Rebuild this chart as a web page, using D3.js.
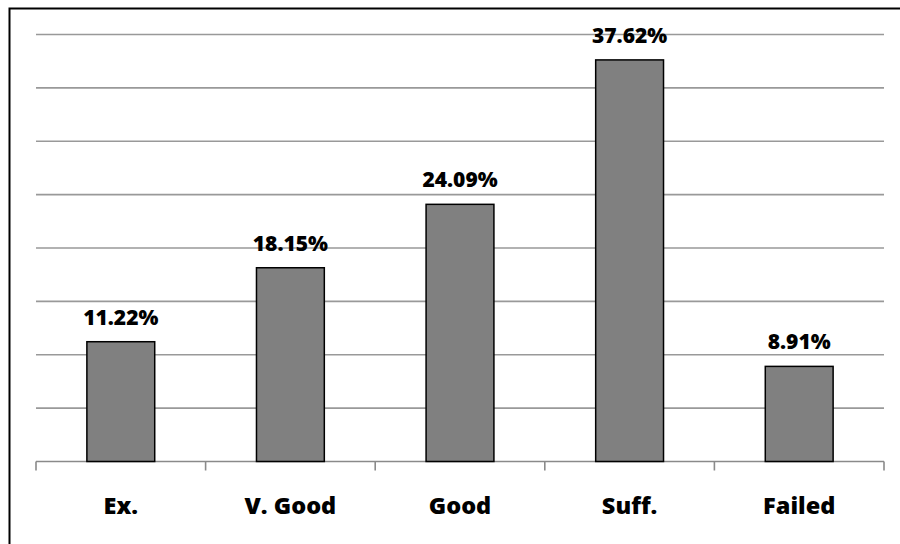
<!DOCTYPE html>
<html>
<head>
<meta charset="utf-8">
<script src="https://cdn.jsdelivr.net/npm/d3@7"></script>
<style>
  html, body { margin: 0; padding: 0; background: #fff; }
  svg { display: block; }
  text { font-family: "Open Sans", "Liberation Sans", sans-serif; font-weight: 800; fill: #000; }
</style>
</head>
<body>
<svg id="chart" width="900" height="544"></svg>
<script>
// Grade distribution (percent of students)
const categories = ["Ex.", "V. Good", "Good", "Suff.", "Failed"];
const percentages = [11.22, 18.15, 24.09, 37.62, 8.91];
const gridValues = [5, 10, 15, 20, 25, 30, 35, 40];

const svg = d3.select("#chart");
const W = 900, H = 544;
const plot = { left: 36, right: 884, top: 34.5, bottom: 461.5 };

// outer frame (right and bottom edges fall outside the canvas)
svg.append("rect")
  .attr("x", 9.5).attr("y", 8.5)
  .attr("width", W + 20).attr("height", H + 20)
  .attr("fill", "none").attr("stroke", "#000").attr("stroke-width", 2);

const y = d3.scaleLinear().domain([0, 40]).range([plot.bottom, plot.top]);

// category slots (tick marks sit on slot boundaries)
const slots = d3.scaleBand().domain(categories).range([plot.left, plot.right]).padding(0);
// bars inside the slots
const x = d3.scaleBand().domain(categories).range([plot.left, plot.right])
  .paddingInner(0.6).paddingOuter(0.3);

// horizontal gridlines
svg.append("g").selectAll("line").data(gridValues).join("line")
  .attr("x1", plot.left).attr("x2", plot.right)
  .attr("y1", d => y(d)).attr("y2", d => y(d))
  .attr("stroke", "#999").attr("stroke-width", 1.6);

// category axis
const axis = svg.append("g");
axis.append("line")
  .attr("x1", plot.left).attr("x2", plot.right)
  .attr("y1", y(0)).attr("y2", y(0))
  .attr("stroke", "#8a8a8a").attr("stroke-width", 1.6);
const tickPos = categories.map(c => slots(c)).concat([plot.right]);
axis.selectAll("line.tick").data(tickPos).join("line")
  .attr("class", "tick")
  .attr("x1", d => d).attr("x2", d => d)
  .attr("y1", y(0)).attr("y2", y(0) + 9)
  .attr("stroke", "#8a8a8a").attr("stroke-width", 1.6);

// bars
svg.append("g").selectAll("rect").data(percentages).join("rect")
  .attr("x", (d, i) => x(categories[i]))
  .attr("y", d => y(d))
  .attr("width", x.bandwidth())
  .attr("height", d => y(0) - y(d))
  .attr("fill", "#808080")
  .attr("stroke", "#000").attr("stroke-width", 1.5);

// value labels
svg.append("g").selectAll("text").data(percentages).join("text")
  .attr("x", (d, i) => x(categories[i]) + x.bandwidth() / 2)
  .attr("y", d => y(d) - 17)
  .attr("text-anchor", "middle")
  .style("font-size", "21px")
  .text(d => d.toFixed(2) + "%");

// category labels
svg.append("g").selectAll("text").data(categories).join("text")
  .attr("x", d => slots(d) + slots.bandwidth() / 2)
  .attr("y", 514)
  .attr("text-anchor", "middle")
  .style("font-size", "23.5px")
  .text(d => d);
</script>
</body>
</html>
